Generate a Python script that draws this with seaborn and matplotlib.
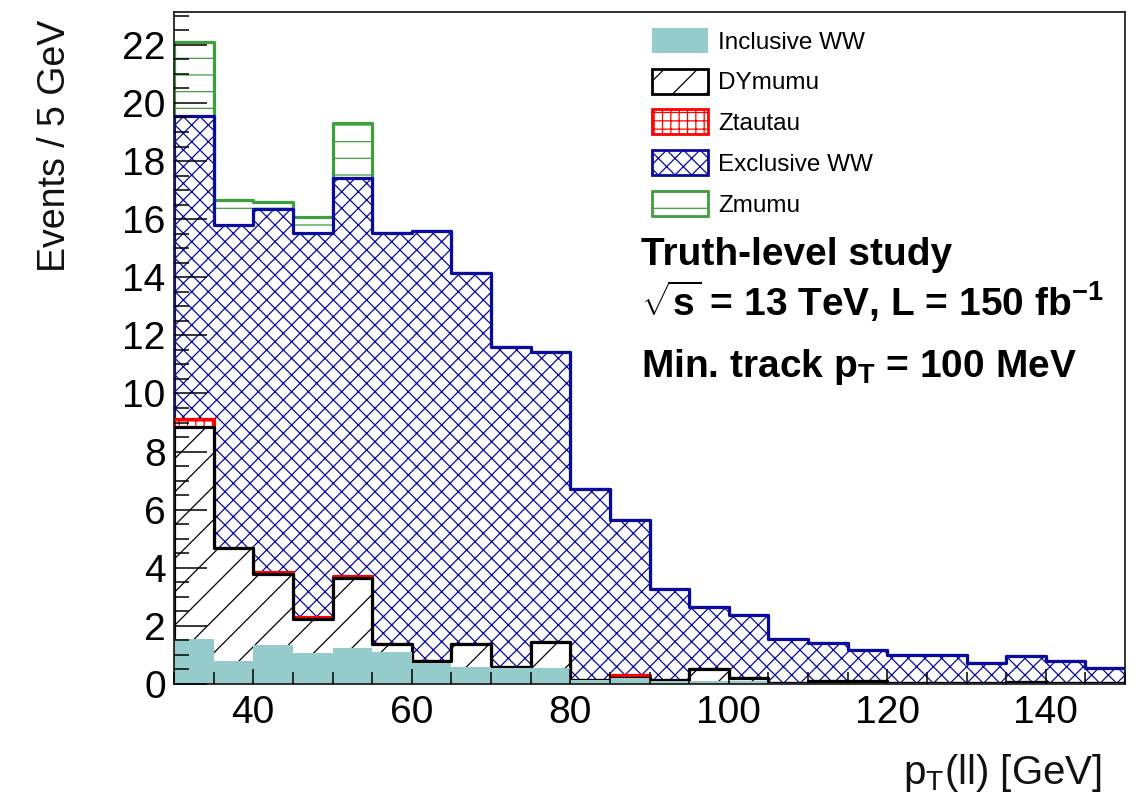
import numpy as np
import seaborn as sns
import matplotlib
matplotlib.use("Agg")
import matplotlib.pyplot as plt
from matplotlib.patches import Patch
from matplotlib.ticker import MultipleLocator

# ---------------- data (events / 5 GeV) ----------------
bin_edges = [30, 35, 40, 45, 50, 55, 60, 65, 70, 75, 80, 85, 90, 95, 100,
             105, 110, 115, 120, 125, 130, 135, 140, 145, 150]
pt_centers = [32.5, 37.5, 42.5, 47.5, 52.5, 57.5, 62.5, 67.5, 72.5, 77.5,
              82.5, 87.5, 92.5, 97.5, 102.5, 107.5, 112.5, 117.5, 122.5,
              127.5, 132.5, 137.5, 142.5, 147.5]

incl_ww = [1.55, 0.79, 1.34, 1.07, 1.24, 1.10, 0.72, 0.60, 0.56, 0.55,
           0.15, 0.20, 0.10, 0.10, 0.10, 0.05, 0.05, 0.05, 0.05, 0.05,
           0.02, 0.03, 0.02, 0.02]
dymumu = [7.30, 3.89, 2.45, 1.16, 2.41, 0.28, 0.07, 0.78, 0.04, 0.90,
          0.00, 0.00, 0.04, 0.42, 0.10, 0.00, 0.07, 0.07, 0.00, 0.00,
          0.00, 0.04, 0.00, 0.00]
ztautau = [0.27, 0.00, 0.06, 0.08, 0.07, 0.00, 0.00, 0.00, 0.00, 0.00,
           0.00, 0.11, 0.00, 0.00, 0.00, 0.00, 0.00, 0.00, 0.00, 0.00,
           0.00, 0.00, 0.00, 0.00]
excl_ww = [10.43, 11.12, 12.50, 13.22, 13.70, 14.15, 14.81, 12.77, 11.00, 9.98,
           6.56, 5.34, 3.13, 2.13, 2.18, 1.50, 1.29, 1.05, 0.95, 0.95,
           0.71, 0.89, 0.78, 0.53]
zmumu = [2.54, 0.86, 0.25, 0.55, 1.88, 0.00, 0.00, 0.00, 0.00, 0.00,
         0.00, 0.00, 0.00, 0.00, 0.00, 0.00, 0.00, 0.00, 0.00, 0.00,
         0.00, 0.00, 0.00, 0.00]

processes = ["Inclusive WW", "DYmumu", "Ztautau", "Exclusive WW", "Zmumu"]
components = [incl_ww, dymumu, ztautau, excl_ww, zmumu]

# ---------------- style ----------------
sns.set_style("ticks")
plt.rcParams.update({
    "font.family": ["Liberation Sans", "DejaVu Sans"],
    "mathtext.fontset": "custom",
    "mathtext.rm": "Liberation Sans",
    "mathtext.it": "Liberation Sans:italic",
    "mathtext.bf": "Liberation Sans:bold",
    "mathtext.sf": "Liberation Sans",
    "hatch.linewidth": 0.9,
    "axes.edgecolor": "#222222",
    "axes.axisbelow": False,
    "text.color": "black",
    "axes.labelcolor": "black",
    "xtick.color": "black",
    "ytick.color": "black",
    "xtick.labelcolor": "black",
    "ytick.labelcolor": "black",
})

styles = {
    "Inclusive WW": dict(face="#95cbca", edge="#95cbca", hatch=None, lw=0.0),
    "DYmumu": dict(face="white", edge="black", hatch="/", lw=2.3),
    "Ztautau": dict(face="white", edge="#ff0000", hatch="++", lw=2.3),
    "Exclusive WW": dict(face="white", edge="#0a0a9c", hatch="xx", lw=2.3),
    "Zmumu": dict(face="white", edge="#3d9f3d", hatch="-", lw=2.3),
}

fig = plt.figure(figsize=(11.38, 8.08), dpi=100)
W, H = 1138, 808
ax = fig.add_axes([174 / W, 1 - 684 / H, 951 / W, 672 / H])

stack = np.cumsum(np.array(components), axis=0)

# draw cumulative layers from the top of the stack down (ROOT THStack style)
for i in reversed(range(len(processes))):
    st = styles[processes[i]]
    sns.histplot(x=pt_centers, weights=stack[i], bins=bin_edges,
                 element="step", fill=True, alpha=1,
                 facecolor=st["face"], edgecolor=st["edge"],
                 hatch=st["hatch"], linewidth=st["lw"], ax=ax)

ax.set_axisbelow(False)
ax.set_xlim(30, 150)
ax.set_ylim(0, 23.13)
ax.xaxis.set_major_locator(MultipleLocator(20))
ax.xaxis.set_minor_locator(MultipleLocator(5))
ax.yaxis.set_major_locator(MultipleLocator(2))
ax.yaxis.set_minor_locator(MultipleLocator(0.5))
ax.tick_params(which="both", direction="in", top=False, right=False,
               width=1.1, colors="black")
ax.tick_params(axis="y", which="major", length=24, labelsize=28, pad=6)
ax.tick_params(axis="y", which="minor", length=11)
ax.tick_params(axis="x", which="major", length=11, labelsize=28, pad=8)
ax.tick_params(axis="x", which="minor", length=8.5)
for sp in ax.spines.values():
    sp.set_visible(True)
    sp.set_linewidth(1.3)

ax.set_xlabel(r"p$_{\mathrm{T}}$(ll) [GeV]", fontsize=29, loc="right",
              color="#111111")
ax.xaxis.set_label_coords((1102 - 174) / 951, (684 - 752) / 672)
ax.set_ylabel("Events / 5 GeV", fontsize=27, loc="top", color="#111111")
ax.yaxis.set_label_coords((73 - 174) / 951, (684 - 20) / 672)

# annotation block
tx = (641 - 174) / 951
ax.text(tx, (684 - 265) / 672, "Truth-level study", transform=ax.transAxes,
        fontsize=28, fontweight="bold", va="baseline", ha="left",
        color="black")
ax.text(tx, (684 - 316) / 672,
        r"$\mathbf{\sqrt{s}}$ = 13 TeV, L = 150 fb$^{\mathbf{-1}}$",
        transform=ax.transAxes, fontsize=28, fontweight="bold",
        va="baseline", ha="left", color="black")
ax.text(tx, (684 - 377) / 672, r"Min. track p$_{\mathbf{T}}$ = 100 MeV",
        transform=ax.transAxes, fontsize=28, fontweight="bold",
        va="baseline", ha="left", color="black")

# legend
handles = []
for name in processes:
    st = styles[name]
    if st["hatch"] is None:
        handles.append(Patch(facecolor=st["face"], edgecolor=st["face"],
                             linewidth=0, label=name))
    else:
        handles.append(Patch(facecolor=st["face"], edgecolor=st["edge"],
                             hatch=st["hatch"], linewidth=2.0, label=name))
leg = ax.legend(handles=handles, loc="upper left",
                bbox_to_anchor=((652 - 174) / 951, (684 - 28) / 672),
                frameon=False, fontsize=17.5, borderpad=0, borderaxespad=0,
                handlelength=2.3, handleheight=1.2, handletextpad=0.42,
                labelspacing=0.62)
for t in leg.get_texts():
    t.set_color("black")

fig.savefig("out.png", dpi=100)
